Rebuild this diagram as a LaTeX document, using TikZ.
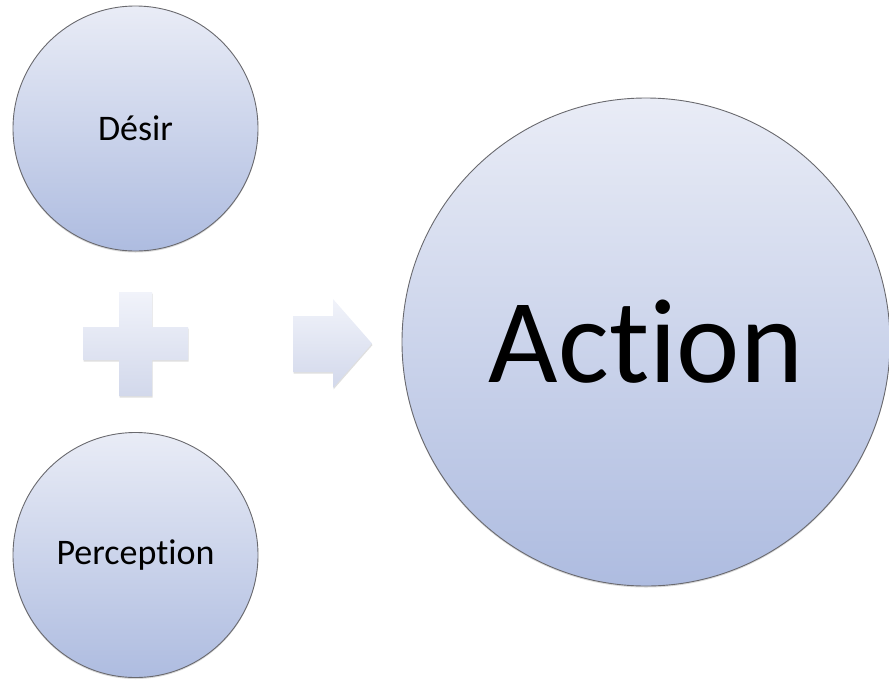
\documentclass[tikz,border=0pt]{standalone}
\usepackage{fontspec}
\setmainfont[Ligatures={NoCommon,NoContextual}]{Carlito}
\usetikzlibrary{shadows}

\definecolor{ballTop}{RGB}{233,236,246}
\definecolor{ballBot}{RGB}{174,188,224}
\definecolor{ballEdge}{RGB}{105,105,110}
\definecolor{signTop}{RGB}{241,243,250}
\definecolor{signBot}{RGB}{210,216,235}

\tikzset{
  ball/.style={circle, draw=ballEdge, line width=0.9pt, inner sep=0pt,
    top color=ballTop, bottom color=ballBot,
    drop shadow={shadow xshift=0pt, shadow yshift=-1.5pt, opacity=0.3}},
  sign/.style={top color=signTop, bottom color=signBot, draw=none,
    drop shadow={shadow xshift=0.5pt, shadow yshift=-1.5pt, opacity=0.25}},
  small label/.style={font=\fontsize{36}{43}\selectfont},
  big label/.style={font=\fontsize{120}{144}\selectfont}
}

\begin{document}
\begin{tikzpicture}[x=1pt, y=-1pt]
  \useasboundingbox (0,0) rectangle (889,681);

  % the two inputs
  \node[ball, minimum size=245, small label] (desir) at (135.5,128.5) {Désir};
  \node[ball, minimum size=245, small label] (perception) at (135.5,555) {Perception};

  % plus sign between the inputs
  \path[sign] (119,292) -- (152,292) -- (152,327) -- (188,327) -- (188,360)
    -- (152,360) -- (152,396) -- (119,396) -- (119,360) -- (83,360)
    -- (83,327) -- (119,327) -- cycle;

  % block arrow towards the result
  \path[sign] (293,316) -- (333,316) -- (333,299) -- (372,343.5) -- (333,388)
    -- (333,372) -- (293,372) -- cycle;

  % the result
  \node[ball, minimum size=488, big label] (action) at (646,342) {Action};
\end{tikzpicture}
\end{document}
